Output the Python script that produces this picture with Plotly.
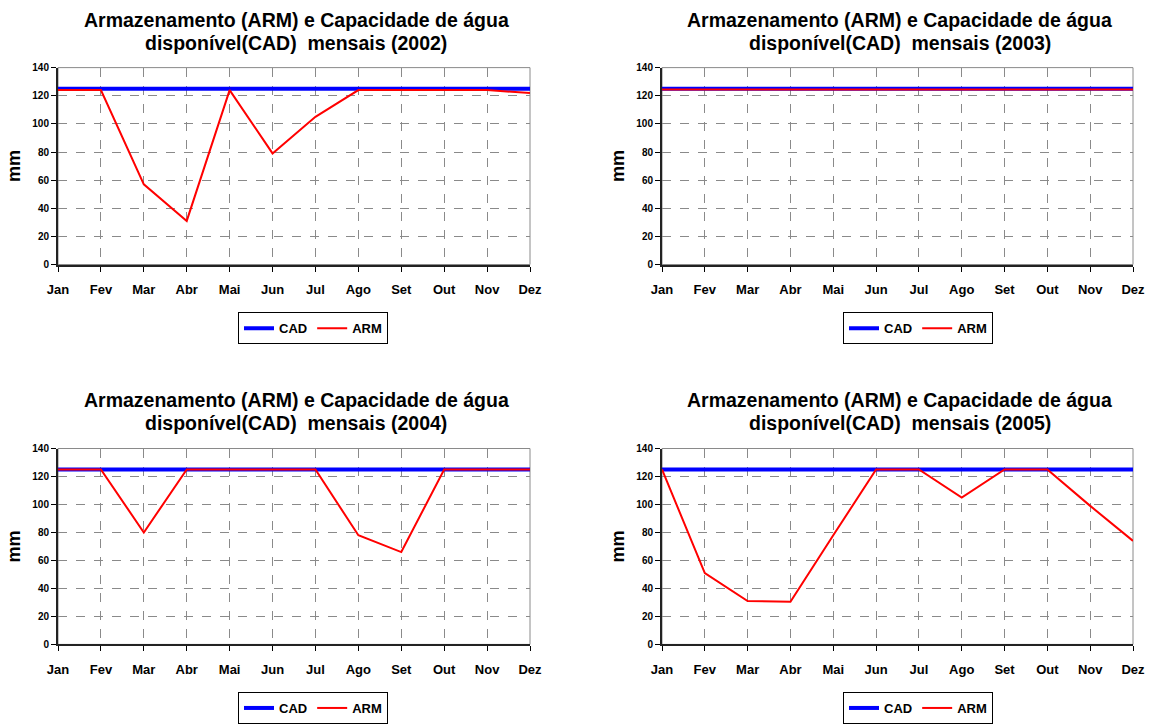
import plotly.graph_objects as go

months = ["Jan", "Fev", "Mar", "Abr", "Mai", "Jun", "Jul", "Ago", "Set", "Out", "Nov", "Dez"]
years = ["2002", "2003", "2004", "2005"]

cad_2002 = [125] * 12
arm_2002 = [124, 124, 57, 31, 124, 79, 105, 124, 124, 124, 124, 122]
cad_2003 = [125] * 12
arm_2003 = [124.5] * 12
cad_2004 = [125] * 12
arm_2004 = [125, 125, 80, 125, 125, 125, 125, 78, 66, 125, 125, 125]
cad_2005 = [125] * 12
arm_2005 = [125, 51, 31, 30.5, 78, 125, 125, 105, 125, 125, 99, 74]

cads = [cad_2002, cad_2003, cad_2004, cad_2005]
arms = [arm_2002, arm_2003, arm_2004, arm_2005]

W, H = 1157, 724
FONT = "Liberation Sans, Arial, sans-serif"

# panel geometry in pixels: (x_left, x_right, y_top(140), y_bottom(0))
panels = [(58, 530, 68, 266), (662, 1133, 68, 266), (58, 530, 451, 648), (662, 1133, 451, 648)]
title_y = [(20, 43), (20, 43), (402, 425), (402, 425)]
legend_pos = [(313, 330), (918, 330), (313, 712), (918, 712)]

fig = go.Figure()
layout = dict(
    width=W, height=H, margin=dict(l=0, r=0, t=0, b=0),
    paper_bgcolor="white", plot_bgcolor="white",
    font=dict(family=FONT, color="black"),
    showlegend=True, annotations=[], shapes=[],
)

for i in range(4):
    n = "" if i == 0 else str(i + 1)
    xa, ya = "x" + n, "y" + n
    lg = "legend" if i == 0 else "legend" + str(i + 1)
    fig.add_trace(go.Scatter(x=months, y=cads[i], mode="lines", name="CAD",
                             line=dict(color="#0000FF", width=4), xaxis=xa, yaxis=ya, legend=lg))
    fig.add_trace(go.Scatter(x=months, y=arms[i], mode="lines", name="ARM",
                             line=dict(color="#FF0000", width=2), xaxis=xa, yaxis=ya, legend=lg))
    x0, x1, yt, yb = panels[i]
    layout["xaxis" + n] = dict(
        domain=[x0 / W, x1 / W], anchor=ya, type="category", range=[0, 11],
        showgrid=True, gridcolor="#8a8a8a", griddash="dash", gridwidth=1,
        showline=True, linecolor="#222222", linewidth=2,
        ticks="outside", ticklen=5, tickcolor="black", tickwidth=1,
        tickfont=dict(family=FONT, size=13, color="black", weight="bold"),
        zeroline=False, fixedrange=True, ticklabelstandoff=7, automargin=False,
    )
    layout["yaxis" + n] = dict(
        domain=[1 - yb / H, 1 - yt / H], anchor=xa, range=[0, 140], dtick=20,
        showgrid=True, gridcolor="#8a8a8a", griddash="dash", gridwidth=1,
        showline=True, linecolor="#222222", linewidth=2,
        ticks="outside", ticklen=5, tickcolor="black", tickwidth=1,
        tickfont=dict(family=FONT, size=10, color="black", weight="bold"),
        zeroline=False, fixedrange=True, automargin=False,
        title=dict(text="mm", font=dict(family=FONT, size=18, color="black", weight="bold"), standoff=7),
    )
    # gray top/right border of plot area
    layout["shapes"].append(dict(type="rect", xref=xa + " domain", yref=ya + " domain",
                                 x0=0, x1=1, y0=0, y1=1, line=dict(color="#8a8a8a", width=1), layer="below"))
    cx = (x0 + x1) / 2 + 2
    for k, txt in enumerate(["Armazenamento (ARM) e Capacidade de água",
                             "disponível(CAD)  mensais (" + years[i] + ")"]):
        layout["annotations"].append(dict(
            text="<b>" + txt + "</b>", x=cx / W, y=1 - title_y[i][k] / H, xref="paper", yref="paper",
            xanchor="center", yanchor="middle", showarrow=False,
            font=dict(family=FONT, size=19.5, color="black")))
    lx, ly = legend_pos[i]
    layout[lg] = dict(
        x=lx / W, y=1 - ly / H, xanchor="center", yanchor="middle", orientation="h",
        bgcolor="white", bordercolor="black", borderwidth=1,
        font=dict(family=FONT, size=13, color="black", weight="bold"),
        itemwidth=30, tracegroupgap=0,
    )

fig.update_layout(**layout)
fig.write_html("out.html")
